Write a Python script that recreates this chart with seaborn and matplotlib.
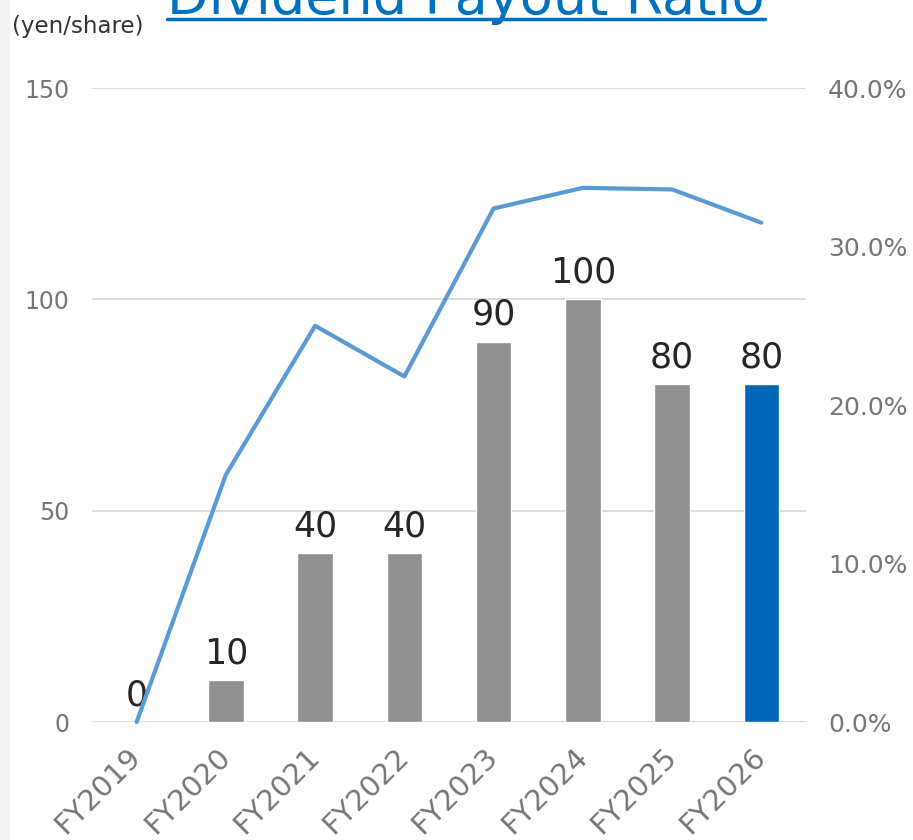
import matplotlib
matplotlib.use("Agg")
import matplotlib.pyplot as plt
from matplotlib.lines import Line2D
from matplotlib.patches import Rectangle
from matplotlib.ticker import FuncFormatter
import seaborn as sns
import pandas as pd
import numpy as np

years = ["FY2019", "FY2020", "FY2021", "FY2022", "FY2023", "FY2024", "FY2025", "FY2026"]
dividend = [0, 10, 40, 40, 90, 100, 80, 80]
payout_ratio = [0.0, 15.6, 25.0, 21.8, 32.4, 33.7, 33.6, 31.5]
bar_colors = ["#909090"] * 7 + ["#0068B7"]

df = pd.DataFrame({"year": years, "dividend": dividend, "payout": payout_ratio})

sns.set_theme(style="white")
plt.rcParams["font.family"] = ["DejaVu Sans"]

fig = plt.figure(figsize=(9.13, 8.4), dpi=100)
fig.patches.append(Rectangle((0, 0), 10 / 913, 1, transform=fig.transFigure,
                             facecolor="#f2f2f2", edgecolor="none", zorder=0))
ax = fig.add_axes([92 / 913, 118 / 840, 714 / 913, 634 / 840])

sns.barplot(data=df, x="year", y="dividend", hue="year", palette=bar_colors,
            saturation=1, legend=False, width=0.4, ax=ax, zorder=3)
for cont in ax.containers:
    ax.bar_label(cont, padding=7, fontsize=25, color="#262626")

ax.set_ylim(0, 150)
ax.set_yticks([0, 50, 100, 150])
ax.set_xlim(-0.5, 7.5)
ax.yaxis.grid(True, color="#d9d9d9", linewidth=1.3, zorder=0)
ax.set_axisbelow(True)
ax.tick_params(axis="y", length=0, pad=16, labelsize=17, labelcolor="#767676")
ax.tick_params(axis="x", length=0, pad=22, labelsize=21, labelcolor="#767676")
plt.setp(ax.get_xticklabels(), rotation=45, ha="right", va="center", rotation_mode="anchor")
ax.set_xlabel("")
ax.set_ylabel("")
sns.despine(ax=ax, left=True, bottom=True)

ax2 = ax.twinx()
sns.lineplot(x=np.arange(len(years)), y=df["payout"], ax=ax2, color="#5B9BD5",
             linewidth=3, clip_on=False, zorder=4)
ax2.set_ylim(0, 40)
ax2.set_yticks([0, 10, 20, 30, 40])
ax2.yaxis.set_major_formatter(FuncFormatter(lambda v, p: f"{v:.1f}%"))
ax2.tick_params(axis="y", length=0, pad=16, labelsize=18, labelcolor="#767676")
ax2.set_ylabel("")
ax2.grid(False)
for s in ax2.spines.values():
    s.set_visible(False)

fig.text(12 / 913, 1 - 27 / 840, "(yen/share)", fontsize=16.5, color="#333333",
         ha="left", va="center")
title = fig.text(466 / 913, 1 - 14 / 840, "Dividend Payout Ratio", fontsize=39,
                 color="#0070C0", ha="center", va="baseline")
fig.canvas.draw()
bb = title.get_window_extent()
fig.add_artist(Line2D([bb.x0 / 913, bb.x1 / 913], [1 - 19 / 840, 1 - 19 / 840],
                      transform=fig.transFigure, color="#0070C0", linewidth=2.5))

fig.savefig("out.png", dpi=100)
